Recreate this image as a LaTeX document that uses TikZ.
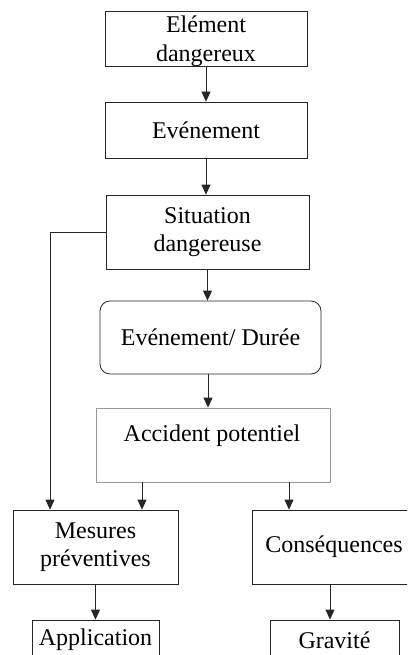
\documentclass[tikz,border=0pt]{standalone}
\usepackage{fontspec}
\setmainfont{Liberation Serif}
\usetikzlibrary{arrows.meta}
\tikzset{
  box/.style={draw=black!85, line width=0.8pt, align=center, inner sep=0pt,
    font=\fontsize{24}{28.5}\selectfont, text=black},
  arr/.style={draw=black!85, line width=0.8pt, -{Triangle[length=10pt,width=9pt]}},
}
\begin{document}
\begin{tikzpicture}[x=1pt,y=-1pt]
\clip (0,0) rectangle (407,655);
\node[box, minimum width=202pt, minimum height=55pt] (b1) at (206,38.5) {};
\node[box, draw=none] (t1) at (206,41) {Elément\\dangereux};
\node[box, minimum width=202pt, minimum height=56pt] (b2) at (206,130) {Evénement};
\node[box, minimum width=203pt, minimum height=74pt] (b3) at (207.5,232) {Situation\\dangereuse};
\node[box, minimum width=221pt, minimum height=73pt, rounded corners=10pt] (b4) at (210.5,337.5) {Evénement/ Durée};
\node[box, draw=black!40, minimum width=234pt, minimum height=74pt] (b5) at (213,445) {};
\node[box, draw=none] (t5) at (212,436) {Accident potentiel};
\node[box, minimum width=165pt, minimum height=74pt] (m) at (95.5,547) {Mesures\\préventives};
\node[box, minimum width=164pt, minimum height=74pt] (c) at (334,547) {Conséquences};
\node[box, minimum width=127pt, minimum height=40pt] (a) at (95.5,640) {Application};
\node[box, minimum width=129pt, minimum height=40pt] (g) at (334.5,640) {Gravité};
\draw[arr] (b1.south) -- (b2.north);
\draw[arr] (b2.south) -- (b2.south |- b3.north);
\draw[arr] (b3.south) -- (b3.south |- b4.north);
\draw[arr] ([xshift=-2.5pt]b4.south) -- ([xshift=-2.5pt]b4.south |- b5.north);
\draw[arr] ([xshift=-71pt]b5.south) -- ([xshift=-71pt]b5.south |- m.north);
\draw[arr] ([xshift=76pt]b5.south) -- ([xshift=76pt]b5.south |- c.north);
\draw[arr] (b3.west) -| ([xshift=-45.5pt]m.north);
\draw[arr] (m.south) -- (m.south |- a.north);
\draw[arr] ([xshift=-4pt]c.south) -- ([xshift=-4pt]c.south |- g.north);
\end{tikzpicture}
\end{document}
